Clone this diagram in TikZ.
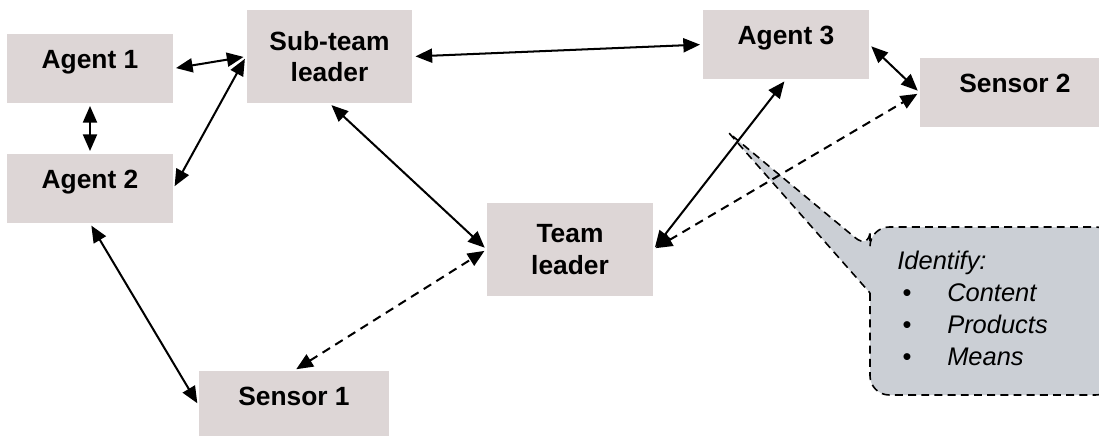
\documentclass[tikz,border=0pt]{standalone}
\usepackage{fontspec}
\setmainfont{Liberation Sans}
\usetikzlibrary{arrows.meta}
\definecolor{boxfill}{RGB}{221,214,214}
\definecolor{notefill}{RGB}{203,207,213}
\newcommand{\itembullet}{\makebox[28.4pt][l]{\hspace{3pt}\upshape\textbullet}}
\begin{document}
\begin{tikzpicture}[x = 0.02cm, y = -0.02cm,
    unit/.style = {fill = boxfill, inner sep = 0pt, minimum width = 3.32cm, minimum height = 1.38cm,
        font = \fontsize{15}{18}\selectfont\bfseries, text height = 5pt, text depth = 5pt},
    wideunit/.style = {unit, minimum width = 3.8cm},
    tallunit/.style = {unit, minimum height = 1.86cm, align = center, text height = , text depth = },
    link/.style = {{Triangle[length = 9.5pt, width = 8pt]}-{Triangle[length = 9.5pt, width = 8pt]},
        line width = 1.15pt, shorten < = 1.5pt, shorten > = 1.5pt},
    weaklink/.style = {link, dash pattern = on 5pt off 3.5pt}]
    \useasboundingbox (0,0) rectangle (1099,436);
    % callout
    \coordinate (tip) at (729,133);
    \draw [line width = 0.9pt, dash pattern = on 4.5pt off 3pt, fill = notefill]
        (870,293) [rounded corners = 11pt] -- (870,395) -- (1115,395) -- (1115,227) -- (870,227) -- (870,250)
        [sharp corners] -- (tip) -- cycle;
    \node [anchor = north west, align = left, inner sep = 0pt, font = \fontsize{14.5}{18.1}\selectfont\itshape] (note) at (897,251)
        {Identify:\\ \itembullet Content\\ \itembullet Products\\ \itembullet Means};
    % boxes
    \node [unit] (agent1) at (90,68.5) {Agent 1};
    \node [unit] (agent2) at (90,188.5) {Agent 2};
    \node [tallunit] (sub) at (329.5,56.5) {Sub-team\\leader};
    \node [unit] (agent3) at (786,44.5) {Agent 3};
    \node [wideunit] (sensor2) at (1015,92.5) {Sensor 2};
    \node [tallunit] (team) at (570,249.5) {Team\\leader};
    \node [wideunit] (sensor1) at (294,405.5) {Sensor 1};
    % links
    \draw [link] (agent1.east) -- (sub.west);
    \draw [link] (agent1.south) -- (agent2.north);
    \draw [link] (agent2.east) -- (sub.west);
    \draw [link] (sub.east) -- (agent3.west);
    \draw [link] (agent3.east) -- (sensor2.west);
    \draw [link] (sub.south) -- (team.west);
    \draw [link] (agent2.south) -- (sensor1.west);
    \draw [link] (team.east) -- (agent3.south);
    \draw [weaklink] (sensor1.north) -- (team.west);
    \draw [weaklink] (team.east) -- (sensor2.west);
\end{tikzpicture}
\end{document}
